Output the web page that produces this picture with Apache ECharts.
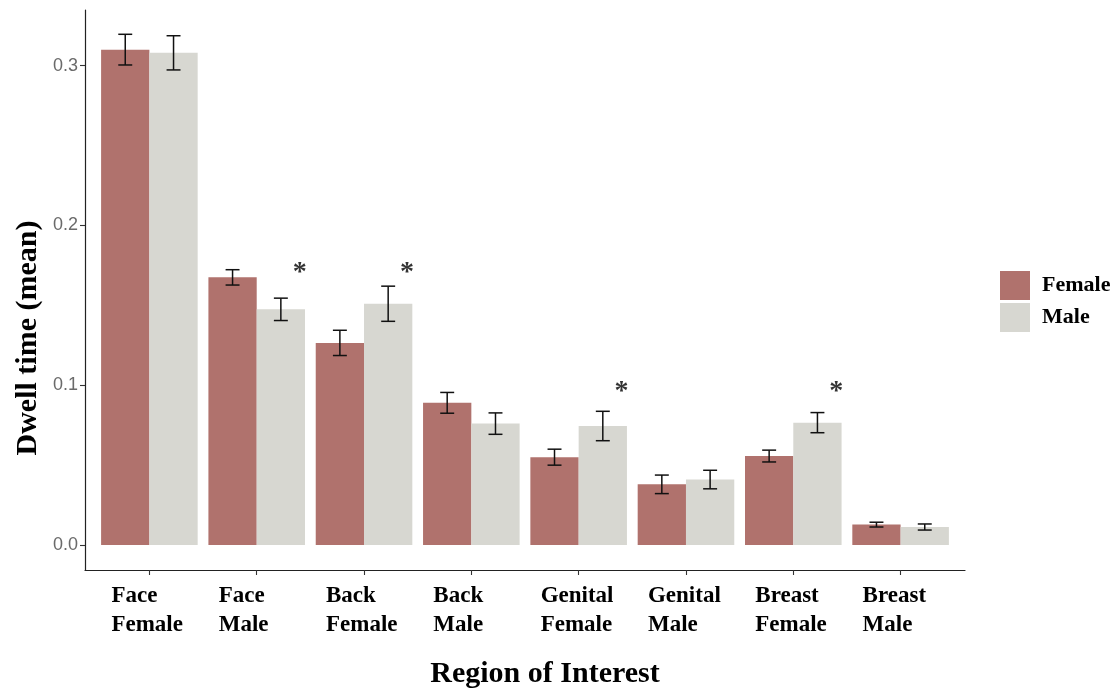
<!DOCTYPE html>
<html>
<head>
<meta charset="utf-8">
<script src="https://cdn.jsdelivr.net/npm/echarts@6/dist/echarts.min.js"></script>
<style>
  html, body { margin: 0; padding: 0; background: #ffffff; }
  #chart { width: 1119px; height: 691px; }
</style>
</head>
<body>
<div id="chart"></div>
<script>
// Regions of interest (two-line labels)
const regionLines = [
  ['Face', 'Female'], ['Face', 'Male'], ['Back', 'Female'], ['Back', 'Male'],
  ['Genital', 'Female'], ['Genital', 'Male'], ['Breast', 'Female'], ['Breast', 'Male']
];
const groupNames = ['Female', 'Male'];

// Mean dwell time and standard error per region, by participant group
const femaleMean = [0.310, 0.1675, 0.1265, 0.089, 0.055, 0.038, 0.0557, 0.0128];
const femaleSE   = [0.0096, 0.0048, 0.0079, 0.0065, 0.005, 0.0058, 0.0037, 0.0015];
const maleMean   = [0.308, 0.1475, 0.151, 0.076, 0.0745, 0.041, 0.0766, 0.0113];
const maleSE     = [0.0107, 0.007, 0.011, 0.0067, 0.0092, 0.0058, 0.0063, 0.0019];

// Significance markers: region index (1-based) and height of the star
const sigRegion = [2, 3, 5, 7];
const sigY      = [0.175, 0.175, 0.1, 0.1];

const yTicks = [0, 0.1, 0.2, 0.3];

const colors = { Female: '#B0726D', Male: '#D7D7D1' };
const catPos = regionLines.map((_, i) => i + 1);
const DODGE = 0.225;      // half of dodge width (bar centre offset)
const CAP = 0.065;        // error bar cap half width

function barData(means) {
  return means.map((v, i) => [catPos[i], v]);
}
function errData(means, ses, side) {
  return means.map((v, i) => [catPos[i], v - ses[i], v + ses[i], side]);
}

function renderErr(params, api) {
  const x = api.value(0) + api.value(3) * DODGE;
  const lo = api.coord([x, api.value(1)]);
  const hi = api.coord([x, api.value(2)]);
  const l = api.coord([x - CAP, api.value(2)]);
  const r = api.coord([x + CAP, api.value(2)]);
  const half = (r[0] - l[0]) / 2;
  const style = { stroke: '#111111', lineWidth: 1.5, fill: null };
  return {
    type: 'group',
    children: [
      { type: 'line', shape: { x1: lo[0], y1: lo[1], x2: hi[0], y2: hi[1] }, style },
      { type: 'line', shape: { x1: hi[0] - half, y1: hi[1], x2: hi[0] + half, y2: hi[1] }, style },
      { type: 'line', shape: { x1: lo[0] - half, y1: lo[1], x2: lo[0] + half, y2: lo[1] }, style }
    ]
  };
}

const chart = echarts.init(document.getElementById('chart'), null, { renderer: 'canvas' });

const serif = '"Liberation Serif", "Times New Roman", serif';
const sans = '"Liberation Sans", Arial, sans-serif';

chart.setOption({
  animation: false,
  backgroundColor: '#ffffff',
  grid: { left: 85, right: 154, top: 10, bottom: 121, containLabel: false },
  xAxis: {
    type: 'value',
    min: 0.4,
    max: 8.6,
    splitLine: { show: false },
    axisLine: { show: true, onZero: false, lineStyle: { color: '#222222', width: 1.2 } },
    axisTick: { show: true, customValues: catPos, length: 5, lineStyle: { color: '#333333', width: 1.1 } },
    axisLabel: {
      customValues: catPos,
      margin: 12,
      formatter: v => {
        const p = regionLines[Math.round(v) - 1];
        return p ? '{a|' + p[0] + '}\n{a|' + p[1] + '}' : '';
      },
      rich: {
        a: { width: 76, align: 'left', fontFamily: serif, fontWeight: 'bold', fontSize: 23, lineHeight: 29, color: '#000000' }
      }
    }
  },
  yAxis: {
    type: 'value',
    min: -0.0156,
    max: 0.3348,
    splitLine: { show: false },
    axisLine: { show: true, onZero: false, lineStyle: { color: '#222222', width: 1.2 } },
    axisTick: { show: true, customValues: yTicks, length: 5, lineStyle: { color: '#333333', width: 1.1 } },
    axisLabel: {
      customValues: yTicks,
      margin: 7,
      formatter: v => v.toFixed(1),
      fontFamily: sans,
      fontSize: 18,
      color: '#6a6a6a'
    }
  },
  legend: {
    orient: 'vertical',
    left: 995,
    top: 266,
    itemWidth: 30,
    itemHeight: 29,
    itemGap: 3,
    icon: 'rect',
    data: groupNames,
    textStyle: { fontFamily: serif, fontWeight: 'bold', fontSize: 22, color: '#000000', padding: [0, 0, 0, 7] }
  },
  graphic: [
    {
      type: 'text',
      x: 28, y: 338, rotation: Math.PI / 2,
      style: { text: 'Dwell time (mean)', font: 'bold 30px ' + serif, fill: '#000000', align: 'center', verticalAlign: 'middle' }
    },
    {
      type: 'text',
      x: 545, y: 674,
      style: { text: 'Region of Interest', font: 'bold 30px ' + serif, fill: '#000000', align: 'center', verticalAlign: 'middle' }
    }
  ],
  series: [
    {
      name: 'Female', type: 'bar', data: barData(femaleMean),
      barWidth: '45%', barGap: '0%',
      itemStyle: { color: colors.Female }
    },
    {
      name: 'Male', type: 'bar', data: barData(maleMean),
      barWidth: '45%', barGap: '0%',
      itemStyle: { color: colors.Male }
    },
    {
      name: 'Female SE', type: 'custom', data: errData(femaleMean, femaleSE, -1),
      renderItem: renderErr, z: 5, encode: { x: 0, y: [1, 2] }
    },
    {
      name: 'Male SE', type: 'custom', data: errData(maleMean, maleSE, 1),
      renderItem: renderErr, z: 5, encode: { x: 0, y: [1, 2] }
    },
    {
      name: 'Significance', type: 'scatter',
      data: sigRegion.map((r, i) => [r + 0.4, sigY[i]]),
      symbolSize: 0,
      label: {
        show: true, position: 'inside', formatter: '*',
        fontFamily: serif, fontWeight: 'bold', fontSize: 28, color: '#000000', offset: [0, 7]
      },
      z: 6
    }
  ]
});
</script>
</body>
</html>
